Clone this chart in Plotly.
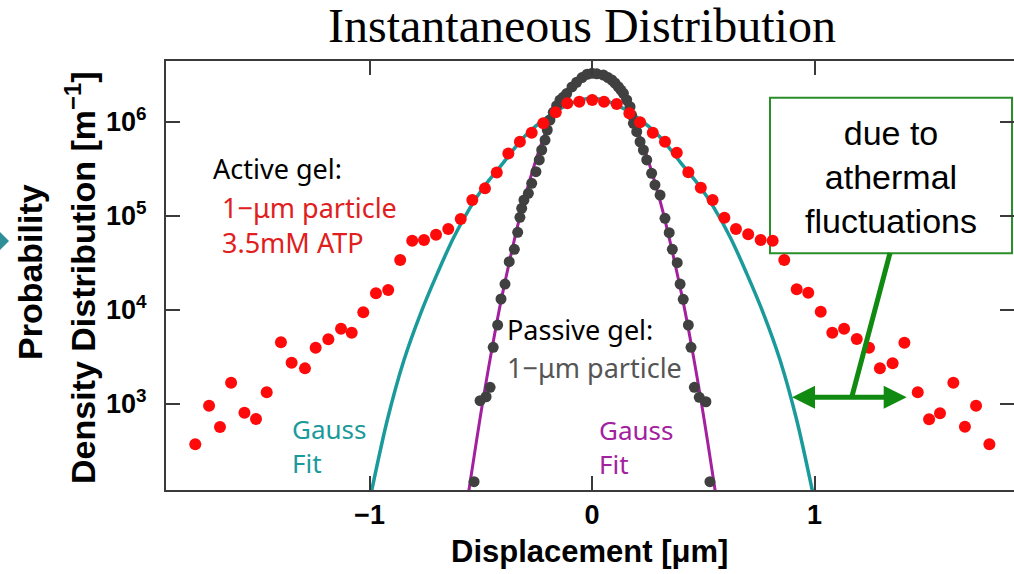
import plotly.graph_objects as go

# ---------------- data ----------------
# Active gel (1-um particle, 3.5 mM ATP): displacement [um] and log10 of density [1/m]
active_x = [-1.783, -1.721, -1.672, -1.622, -1.562, -1.510, -1.462, -1.398, -1.350, -1.290,
            -1.242, -1.185, -1.128, -1.080, -1.028, -0.971, -0.916, -0.862, -0.808, -0.755,
            -0.701, -0.646, -0.590, -0.538, -0.481, -0.428, -0.376, -0.324, -0.271, -0.219,
            -0.163, -0.111, -0.057, 0.001, 0.054, 0.111, 0.168, 0.216, 0.273, 0.328,
            0.381, 0.433, 0.489, 0.542, 0.595, 0.647, 0.702, 0.758, 0.812, 0.864,
            0.920, 0.972, 1.028, 1.080, 1.133, 1.190, 1.245, 1.294, 1.351, 1.404,
            1.464, 1.515, 1.564, 1.624, 1.676, 1.726, 1.786]
active_log10 = [2.568, 2.979, 2.752, 3.223, 2.904, 2.837, 3.121, 3.653, 3.436, 3.376,
                3.596, 3.685, 3.798, 3.755, 3.972, 4.174, 4.210, 4.529, 4.734, 4.741,
                4.798, 4.859, 4.965, 5.167, 5.291, 5.461, 5.663, 5.787, 5.883, 5.983,
                6.100, 6.196, 6.213, 6.231, 6.213, 6.188, 6.089, 5.994, 5.883, 5.787,
                5.670, 5.462, 5.298, 5.167, 4.979, 4.859, 4.802, 4.741, 4.734, 4.529,
                4.217, 4.181, 3.979, 3.755, 3.798, 3.688, 3.596, 3.377, 3.430, 3.649,
                3.121, 2.834, 2.898, 3.223, 2.755, 2.979, 2.568]

# Passive gel (1-um particle)
passive_x = [-0.530, -0.503, -0.476, -0.458, -0.444, -0.424, -0.409, -0.391, -0.372, -0.349,
             -0.334, -0.324, -0.316, -0.306, -0.286, -0.271, -0.252, -0.237, -0.226, -0.211,
             -0.201, -0.189, -0.174, -0.159, -0.144, -0.130, -0.114, -0.090, -0.069, -0.045,
             -0.022, 0.000, 0.022, 0.051, 0.072, 0.089, 0.103, 0.118, 0.130, 0.141,
             0.156, 0.171, 0.178, 0.186, 0.201, 0.216, 0.231, 0.246, 0.268, 0.283,
             0.306, 0.328, 0.347, 0.361, 0.383, 0.396, 0.410, 0.433, 0.445, 0.460,
             0.482, 0.512, 0.530]
passive_log10 = [2.170, 3.032, 3.074, 3.174, 3.600, 3.837, 4.114, 4.273, 4.511, 4.643,
                 4.823, 4.983, 5.079, 5.166, 5.238, 5.345, 5.468, 5.593, 5.699, 5.805,
                 5.912, 6.018, 6.100, 6.170, 6.230, 6.260, 6.300, 6.370, 6.420, 6.470,
                 6.505, 6.515, 6.510, 6.497, 6.470, 6.444, 6.412, 6.372, 6.337, 6.302,
                 6.231, 6.160, 6.071, 5.983, 5.894, 5.787, 5.699, 5.593, 5.451, 5.327,
                 5.220, 4.972, 4.819, 4.643, 4.500, 4.273, 4.111, 3.837, 3.600, 3.174,
                 3.068, 3.021, 2.170]

# Gauss fit curves
gauss_active_x = [-1.00, -0.99, -0.92, -0.845, -0.77, -0.695, -0.62, -0.545, -0.489, -0.40,
                  -0.30, -0.20, -0.10, 0.00, 0.10, 0.20, 0.30, 0.40, 0.489, 0.545,
                  0.62, 0.695, 0.77, 0.845, 0.92, 0.99, 1.00]
gauss_active_log10 = [1.97, 2.08, 2.827, 3.465, 3.962, 4.387, 4.777, 5.096, 5.298, 5.56,
                      5.85, 6.05, 6.19, 6.25, 6.19, 6.05, 5.85, 5.56, 5.298, 5.096,
                      4.777, 4.387, 3.962, 3.465, 2.827, 2.08, 1.97]
gauss_passive_x = [-0.56, -0.55, -0.50, -0.45, -0.40, -0.30, -0.20, -0.10, 0.00,
                   0.10, 0.20, 0.30, 0.40, 0.45, 0.50, 0.55, 0.56]
gauss_passive_log10 = [1.97, 2.13, 2.89, 3.58, 4.195, 5.21, 5.935, 6.37, 6.515,
                       6.37, 5.935, 5.21, 4.195, 3.58, 2.89, 2.13, 1.97]

x_tickvals = [-1, 0, 1]
x_ticktext = ["\u22121", "0", "1"]
y_tickvals = [1e3, 1e4, 1e5, 1e6]
y_ticktext = ["10<sup>3</sup>", "10<sup>4</sup>", "10<sup>5</sup>", "10<sup>6</sup>"]

# ---------------- figure ----------------
W, H = 1014, 574
ML, MR, MT, MB = 166, 0, 61, 84


def pxx(p):
    return (p - ML) / (W - ML - MR)


def pxy(p):
    return (H - MB - p) / (H - MT - MB)


def to_lin(vals):
    return [10 ** v for v in vals]


TEAL = "#1b9a9b"
MAGENTA = "#a3209f"
RED = "#ff0a0a"
DARK = "#404040"
GREEN_BOX = "#2a8f2a"
GREEN_ARROW = "#118a11"
AXIS_FONT = "Liberation Sans Narrow, Liberation Sans, Arial, sans-serif"
TEXT_FONT = "Noto Sans, Liberation Sans, sans-serif"

fig = go.Figure()
fig.add_trace(go.Scatter(x=gauss_active_x, y=to_lin(gauss_active_log10), mode="lines",
                         line=dict(color=TEAL, width=3.5, shape="spline", smoothing=1),
                         hoverinfo="skip", showlegend=False))
fig.add_trace(go.Scatter(x=gauss_passive_x, y=to_lin(gauss_passive_log10), mode="lines",
                         line=dict(color=MAGENTA, width=3, shape="spline", smoothing=1),
                         hoverinfo="skip", showlegend=False))
fig.add_trace(go.Scatter(x=passive_x, y=to_lin(passive_log10), mode="markers",
                         marker=dict(color=DARK, size=11, line=dict(width=0)),
                         showlegend=False, name="Passive gel"))
fig.add_trace(go.Scatter(x=active_x, y=to_lin(active_log10), mode="markers",
                         marker=dict(color=RED, size=12, line=dict(width=0)),
                         showlegend=False, name="Active gel"))

axis_common = dict(showline=True, mirror="ticks", linecolor="#3a3a3a", linewidth=2,
                   ticks="inside", ticklen=14, tickwidth=2, tickcolor="#3a3a3a",
                   showgrid=False, zeroline=False)

fig.update_layout(
    width=W, height=H,
    margin=dict(l=ML, r=MR, t=MT, b=MB, autoexpand=False),
    paper_bgcolor="white", plot_bgcolor="white",
    xaxis=dict(range=[-1.9146, 1.8966], tickvals=x_tickvals, ticktext=x_ticktext,
               tickfont=dict(family=AXIS_FONT, size=27, color="black", weight="bold"),
               ticklabelstandoff=0, **axis_common),
    yaxis=dict(type="log", range=[2.082, 6.646], tickvals=y_tickvals, ticktext=y_ticktext,
               tickfont=dict(family=AXIS_FONT, size=27, color="black", weight="bold"),
               ticklabelstandoff=12, **axis_common),
    showlegend=False,
)

ann = []
# title
ann.append(dict(text="Instantaneous Distribution", x=pxx(582), y=pxy(26), xref="paper", yref="paper",
                xanchor="center", yanchor="middle", showarrow=False,
                font=dict(family="Liberation Serif, Times New Roman, serif", size=48, color="black")))
# axis titles
ann.append(dict(text="Displacement [\u03bcm]", x=pxx(589), y=pxy(551), xref="paper", yref="paper",
                xanchor="center", yanchor="middle", showarrow=False,
                font=dict(family="Liberation Sans, Arial, sans-serif", size=31, color="black", weight="bold")))
ann.append(dict(text="Probability", x=pxx(30), y=pxy(272), xref="paper", yref="paper",
                xanchor="center", yanchor="middle", showarrow=False, textangle=-90,
                font=dict(family="Liberation Sans, Arial, sans-serif", size=34, color="black", weight="bold")))
ann.append(dict(text="Density Distribution [m<sup>\u22121</sup>]", x=pxx(80), y=pxy(278), xref="paper", yref="paper",
                xanchor="center", yanchor="middle", showarrow=False, textangle=-90,
                font=dict(family="Liberation Sans, Arial, sans-serif", size=34, color="black", weight="bold")))


def label(text, xp, yp, color, size=27, anchor="left", family=TEXT_FONT):
    ann.append(dict(text=text, x=pxx(xp), y=pxy(yp), xref="paper", yref="paper",
                    xanchor=anchor, yanchor="middle", showarrow=False, align=anchor,
                    font=dict(family=family, size=size, color=color)))


label("Active gel:", 211, 168, "black")
label("1\u2212\u03bcm particle", 220, 207, "#e02020")
label("3.5mM ATP", 220, 242, "#e02020")
label("Passive gel:", 505, 329, "black")
label("1\u2212\u03bcm particle", 505, 367, "#555555")
label("Gauss<br>Fit", 290, 446, TEAL, size=26)
label("Gauss<br>Fit", 597, 447, MAGENTA, size=26)
label("due to<br>athermal<br>fluctuations", 891, 177, "black", size=34, anchor="center",
      family="Liberation Sans, Arial, sans-serif")

fig.update_layout(annotations=ann)

shapes = []
# annotation box
shapes.append(dict(type="rect", xref="paper", yref="paper", x0=pxx(770), x1=pxx(1012),
                   y0=pxy(253.3), y1=pxy(97.7), line=dict(color=GREEN_BOX, width=2),
                   fillcolor="white", layer="below"))
# stem from box to arrow
shapes.append(dict(type="line", xref="paper", yref="paper", x0=pxx(890), y0=pxy(253),
                   x1=pxx(851.7), y1=pxy(397.3), line=dict(color=GREEN_ARROW, width=5)))
# horizontal double arrow: shaft + two heads
AY = 397.3
shapes.append(dict(type="line", xref="paper", yref="paper", x0=pxx(812), y0=pxy(AY),
                   x1=pxx(887), y1=pxy(AY), line=dict(color=GREEN_ARROW, width=5)))
for tip, base in ((792, 815), (906.7, 883.7)):
    shapes.append(dict(type="path", xref="paper", yref="paper",
                       path="M {:.5f},{:.5f} L {:.5f},{:.5f} L {:.5f},{:.5f} Z".format(
                           pxx(tip), pxy(AY), pxx(base), pxy(AY - 11.5), pxx(base), pxy(AY + 11.5)),
                       fillcolor=GREEN_ARROW, line=dict(width=0)))
# teal marker cut at the left edge
shapes.append(dict(type="path", xref="paper", yref="paper",
                   path="M {:.5f},{:.5f} L {:.5f},{:.5f} L {:.5f},{:.5f} Z".format(
                       pxx(0), pxy(232), pxx(9), pxy(241), pxx(0), pxy(250)),
                   fillcolor="#2f8f97", line=dict(width=0)))
fig.update_layout(shapes=shapes)

fig.write_html("out.html")
